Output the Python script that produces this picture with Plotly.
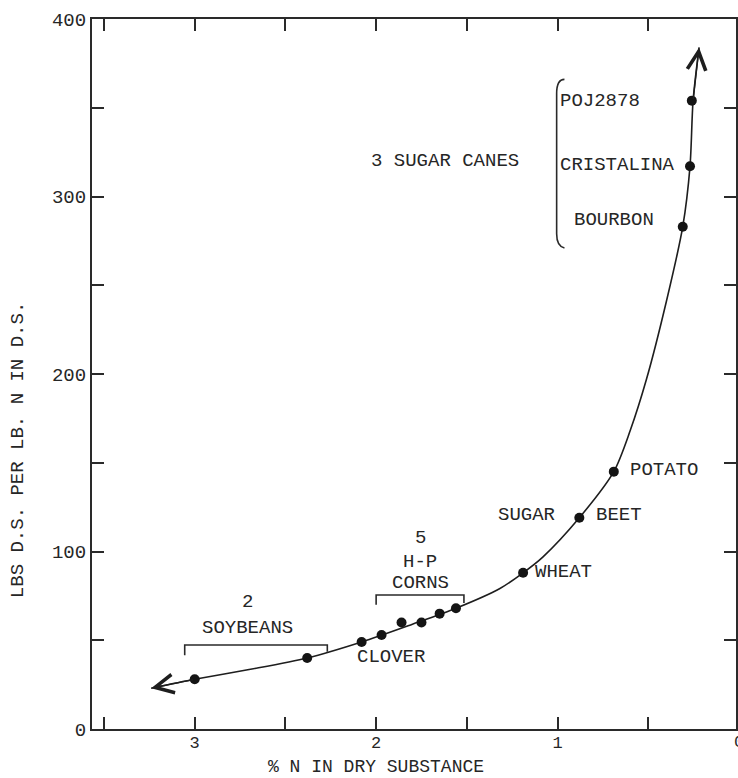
import plotly.graph_objects as go

# Nitrogen content of the dry substance and yield of dry substance per lb of N
crop_names = ["Soybean", "Soybean", "Clover", "Corn", "Corn", "Corn", "Corn", "Corn",
              "Wheat", "Sugar beet", "Potato", "Bourbon", "Cristalina", "POJ2878"]
pct_n = [3.00, 2.38, 2.08, 1.97, 1.86, 1.75, 1.65, 1.56, 1.19, 0.88, 0.69, 0.31, 0.27, 0.26]
lbs_ds = [28, 40, 49, 53, 60, 60, 65, 68, 88, 119, 145, 283, 317, 354]

# Hand-drawn trend curve through the crops
curve_x = [3.24, 3.00, 2.70, 2.38, 2.08, 1.80, 1.56, 1.32, 1.19, 1.08, 0.88, 0.69,
           0.60, 0.51, 0.40, 0.31, 0.27, 0.253, 0.22]
curve_y = [23, 28, 33.5, 40, 49, 59, 68, 79, 88, 97, 119, 145,
           168, 197, 241, 283, 317, 354, 384]

y_ticks = [0, 50, 100, 150, 200, 250, 300, 350, 400]
y_tick_text = ["0", "", "100", "", "200", "", "300", "", "400"]
x_ticks = [3.5, 3, 2.5, 2, 1.5, 1, 0.5]
x_tick_text = ["", "3", "", "2", "", "1", ""]

FONT = "Liberation Mono, Courier New, monospace"
INK = "#262626"
FS = 19

fig = go.Figure()

fig.add_trace(go.Scatter(
    x=curve_x, y=curve_y, mode="lines",
    line=dict(color="#1e1e1e", width=1.6, shape="spline", smoothing=0.8),
    hoverinfo="skip", showlegend=False,
))

fig.add_trace(go.Scatter(
    x=pct_n, y=lbs_ds, mode="markers", text=crop_names,
    marker=dict(size=10, color="#141414"),
    showlegend=False,
))

# Arrowheads at both ends of the curve
for tip, tail in ((0, 1), (-1, -2)):
    fig.add_annotation(
        x=curve_x[tip], y=curve_y[tip], ax=curve_x[tail], ay=curve_y[tail],
        xref="x", yref="y", axref="x", ayref="y", text="",
        showarrow=True, arrowhead=5, arrowsize=2.6, arrowwidth=1.4,
        arrowcolor="#1e1e1e",
    )

def label(text, x, y, anchor="left", ref="x"):
    fig.add_annotation(
        x=x, y=y, xref=ref, yref="y", text=text, showarrow=False,
        xanchor=anchor, yanchor="middle",
        font=dict(family=FONT, size=FS, color=INK),
    )

label("3 SUGAR CANES", 1.62, 320, "center")
label("POJ2878", 0.995, 354)
label("CRISTALINA", 0.995, 318)
label("BOURBON", 0.923, 287)
label("POTATO", 0.61, 146)
label("SUGAR", 1.005, 120.5, "right")
label("BEET", 0.80, 120.5)
label("WHEAT", 1.135, 88.5)
label("CLOVER", 1.918, 40.5, "center")
label("5", 1.758, 107.5, "center")
label("H-P", 1.758, 94, "center")
label("CORNS", 1.758, 82.5, "center")
label("2", 2.709, 71.5, "center")
label("SOYBEANS", 2.709, 57, "center")

# Group brackets
bracket = dict(color="#2a2a2a", width=1.6)
fig.add_shape(type="path", xref="x", yref="y", line=bracket,
              path="M 3.055 41.5 L 3.055 47.3 L 2.269 47.3 L 2.269 43.5")
fig.add_shape(type="path", xref="x", yref="y", line=bracket,
              path="M 2.0 70 L 2.0 75.5 L 1.516 75.5 L 1.516 71")
fig.add_shape(type="path", xref="x", yref="y", line=bracket,
              path="M 0.962 366 Q 1.005 366 1.005 358 L 1.005 279 "
                   "Q 1.005 272 0.962 271")

# Axis titles and the tick label at x = 0 that falls on the page edge
fig.add_annotation(
    x=-0.1146, y=0.393, xref="paper", yref="paper", text="LBS D.S. PER LB. N IN D.S.",
    textangle=-90, showarrow=False, xanchor="center", yanchor="middle",
    font=dict(family=FONT, size=FS, color=INK),
)
fig.add_annotation(
    x=0.441, y=-0.0535, xref="paper", yref="paper", text="% N IN DRY SUBSTANCE",
    showarrow=False, xanchor="center", yanchor="middle",
    font=dict(family=FONT, size=18, color=INK),
)
fig.add_annotation(
    x=1.0046, y=-0.019, xref="paper", yref="paper", text="0",
    showarrow=False, xanchor="center", yanchor="middle",
    font=dict(family=FONT, size=17, color=INK),
)

axis_common = dict(
    showgrid=False, zeroline=False, showline=True, linecolor="#2a2a2a",
    linewidth=2, mirror="ticks", ticks="inside", ticklen=12, tickwidth=1.6,
    tickcolor="#2a2a2a",
)

fig.update_xaxes(range=[3.566, 0.0165], tickvals=x_ticks, ticktext=x_tick_text,
                 tickfont=dict(family=FONT, size=17, color=INK),
                 ticklabelstandoff=-3, **axis_common)
fig.update_yaxes(range=[0, 400], tickvals=y_ticks, ticktext=y_tick_text,
                 tickfont=dict(family=FONT, size=FS, color=INK), **axis_common)

fig.update_layout(
    width=738, height=778,
    margin=dict(l=92, r=0, t=19, b=49),
    paper_bgcolor="white", plot_bgcolor="white",
    showlegend=False,
)

fig.write_html("out.html")
